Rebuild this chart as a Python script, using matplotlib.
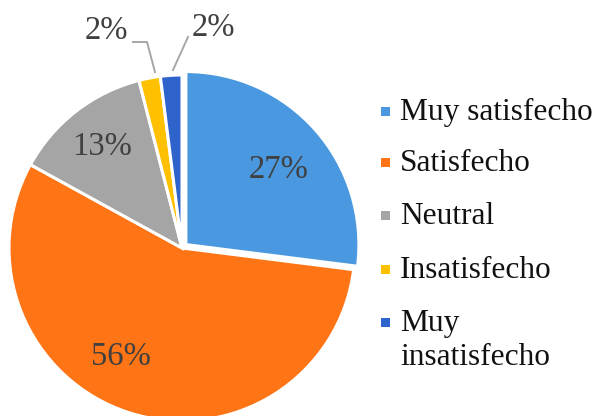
import matplotlib
matplotlib.use('Agg')
import matplotlib.pyplot as plt
from matplotlib.patches import Rectangle

categorias = ['Muy satisfecho', 'Satisfecho', 'Neutral', 'Insatisfecho', 'Muy\ninsatisfecho']
porcentajes = [27, 56, 13, 2, 2]
colores = ['#4A98DF', '#FF7415', '#A5A5A5', '#FFC000', '#2E63CC']

plt.rcParams['font.family'] = ['Liberation Serif', 'DejaVu Serif']

fig = plt.figure(figsize=(5.99, 4.16), dpi=100)

# Pie en unidades de radio: centro (0,0), radio 1 = 173 px
cx, cy, rpx = 182, 248, 173
ax = fig.add_axes([0, 0, 1, 1])
wedges, _ = ax.pie(porcentajes, colors=colores, startangle=90, counterclock=False,
                   explode=[0.03, 0, 0, 0, 0],
                   wedgeprops=dict(edgecolor='white', linewidth=2.2))
ax.set_xlim((0 - cx) / rpx, (599 - cx) / rpx)
ax.set_ylim((cy - 416) / rpx, cy / rpx)
ax.set_aspect('equal')
ax.axis('off')

# Capa en pixeles para etiquetas y leyenda
ov = fig.add_axes([0, 0, 1, 1])
ov.set_xlim(0, 599)
ov.set_ylim(416, 0)
ov.axis('off')

pos_etiquetas = [(279, 170), (121, 357), (102, 147), (106, 31), (213, 28)]
for p, (x, y) in zip(porcentajes, pos_etiquetas):
    ov.text(x, y, f'{p}%', fontsize=23.5, color='#404040', ha='center', va='center')

# Líneas guía de los 2%
ov.plot([133, 147, 155], [42, 42, 72], color='#A6A6A6', lw=1.4)
ov.plot([188, 173], [37, 70], color='#A6A6A6', lw=1.4)

# Leyenda
bases = [120, 171, 224, 278, 331]
for cat, col, b in zip(categorias, colores, bases):
    ov.add_patch(Rectangle((380.5, b - 13.5), 9, 9, color=col, lw=0))
    for i, linea in enumerate(cat.split('\n')):
        ov.text(400, b + i * 34, linea, fontsize=22.6, color='#111111',
                ha='left', va='baseline')

plt.savefig('out.png', dpi=100)
